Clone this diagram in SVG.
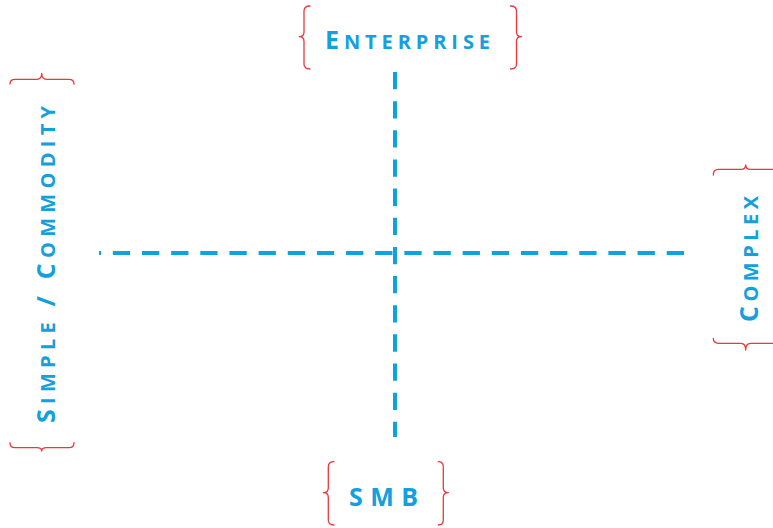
<svg xmlns="http://www.w3.org/2000/svg" width="773" height="528" viewBox="0 0 773 528">
<style>
.axis{fill:none;stroke:#0fa3dd;stroke-width:4;stroke-dasharray:17.3 11.85}
.brace{fill:none;stroke:#e8383d;stroke-width:1.3;stroke-linejoin:round;stroke-linecap:round}
.lbl{font-family:"Open Sans",Lato,"Liberation Sans",sans-serif;font-weight:bold;fill:#14a0dc}
.big{font-size:25px}
.sm{font-size:20px}
</style>
<rect width="773" height="528" fill="#ffffff"/>
<g id="connectors">
<line class="axis" x1="684" y1="253" x2="99" y2="253"/>
<line class="axis" x1="395" y1="72" x2="395" y2="437"/>
</g>
<g id="enterprise">
<path class="brace" d="M310,6 Q304,6 304,11 L304,32 Q304,36.7 299.3,36.7 Q304,36.7 304,41.5 L304,64 Q304,69 310,69"/>
<path class="brace" d="M510.5,6 Q516.5,6 516.5,11 L516.5,32 Q516.5,36.7 521.5,36.7 Q516.5,36.7 516.5,41.5 L516.5,64 Q516.5,69 510.5,69"/>
<text class="lbl" x="325" y="49.3" textLength="165" lengthAdjust="spacing"><tspan class="big">E</tspan><tspan class="sm">NTERPRISE</tspan></text>
</g>
<g id="smb">
<path class="brace" d="M334,461.7 Q328.3,461.7 328.3,467 L328.3,488 Q328.3,492.7 323.3,492.7 Q328.3,492.7 328.3,497.5 L328.3,520 Q328.3,525 334,525"/>
<path class="brace" d="M438.3,461.7 Q443.3,461.7 443.3,467 L443.3,488 Q443.3,492.7 448.3,492.7 Q443.3,492.7 443.3,497.5 L443.3,520 Q443.3,525 438.3,525"/>
<text class="lbl big" x="349" y="505.7" textLength="69" lengthAdjust="spacing">SMB</text>
</g>
<g id="simple-commodity">
<path class="brace" d="M10,84 Q10,79.3 15,79.3 L37,79.3 Q41.7,79.3 41.7,73.3 Q41.7,79.3 46.5,79.3 L69,79.3 Q74,79.3 74,84"/>
<path class="brace" d="M10,442.7 Q10,447.7 15,447.7 L37,447.7 Q41.7,447.7 41.7,451 Q41.7,447.7 46.5,447.7 L69,447.7 Q74,447.7 74,442.7"/>
<text class="lbl" transform="translate(55,423) rotate(-90)" x="0" y="0" textLength="317" lengthAdjust="spacing"><tspan class="big">S</tspan><tspan class="sm">IMPLE </tspan><tspan class="big">/ C</tspan><tspan class="sm">OMMODITY</tspan></text>
</g>
<g id="complex">
<path class="brace" d="M713.3,175 Q713.3,169.3 718.5,169.3 L741,169.3 Q745.7,169.3 745.7,165 Q745.7,169.3 750.5,169.3 L773,169.3 Q778,169.3 778,175"/>
<path class="brace" d="M713.3,338.3 Q713.3,343.3 718.5,343.3 L741,343.3 Q745.7,343.3 745.7,350 Q745.7,343.3 750.5,343.3 L773,343.3 Q778,343.3 778,338.3"/>
<text class="lbl" transform="translate(758.3,322) rotate(-90)" x="0" y="0" textLength="126" lengthAdjust="spacing"><tspan class="big">C</tspan><tspan class="sm">OMPLEX</tspan></text>
</g>
</svg>
